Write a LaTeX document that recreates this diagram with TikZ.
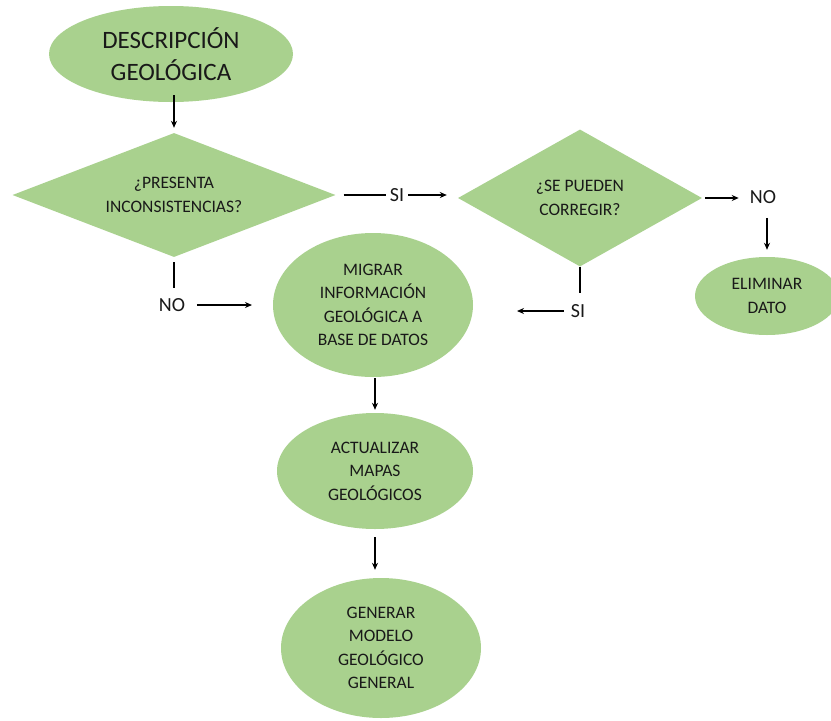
\documentclass[tikz,border=0pt]{standalone}
\usepackage{fontspec}
\setmainfont{Carlito}
\usetikzlibrary{shapes.geometric,arrows.meta}
\definecolor{boxgreen}{HTML}{A9D18E}
\begin{document}
\begin{tikzpicture}[x=1pt,y=-1pt,
  shapebox/.style={fill=boxgreen, draw=none, inner sep=0pt, align=center, text=black!90},
  oval/.style={shapebox, ellipse},
  rhomb/.style={shapebox, diamond},
  small/.style={font=\fontsize{17.5}{23.5}\selectfont},
  big/.style={font=\fontsize{25}{32}\selectfont},
  lbl/.style={font=\fontsize{20}{24}\selectfont, inner sep=4pt, text=black!90},
  arr/.style={line width=1.2pt, -{Stealth[length=7pt,width=6pt]}},
  ln/.style={line width=1.2pt}]
\useasboundingbox (0,0) rectangle (831,721);
\fill[white] (0,0) rectangle (831,721);

% shapes
\node[oval, big, minimum width=244, minimum height=96] (desc) at (171,54) {DESCRIPCIÓN\\GEOLÓGICA};
\node[rhomb, small, aspect=2.6, minimum width=323, minimum height=124] (d1) at (174,195) {¿PRESENTA\\INCONSISTENCIAS?};
\node[rhomb, small, aspect=1.8, minimum width=244, minimum height=137] (d2) at (580,198) {¿SE PUEDEN\\CORREGIR?};
\node[oval, small, minimum width=144, minimum height=78] (elim) at (767,296) {ELIMINAR\\DATO};
\node[oval, small, minimum width=200, minimum height=144] (mig) at (373,305) {MIGRAR\\INFORMACIÓN\\GEOLÓGICA A\\BASE DE DATOS};
\node[oval, small, minimum width=196, minimum height=116] (act) at (375,471) {ACTUALIZAR\\MAPAS\\GEOLÓGICOS};
\node[oval, small, minimum width=200, minimum height=140] (gen) at (381,648) {GENERAR\\MODELO\\GEOLÓGICO\\GENERAL};

% labels
\node[lbl] (si1) at (397,195) {SI};
\node[lbl] (no2) at (763,197) {NO};
\node[lbl] (si2) at (578,311) {SI};
\node[lbl] (no1) at (172,305) {NO};
\coordinate (si2end) at (517,311);
\coordinate (no1end) at (252,305);

% connectors
\draw[arr, shorten <=-7pt, shorten >=5pt] (d1.north |- desc.south) -- (d1.north);
\draw[ln, shorten <=8pt] (d1.east) -- (si1.west);
\draw[arr, shorten >=11pt] (si1.east) -- (si1.east -| d2.west);
\draw[arr, shorten <=3pt, shorten >=7pt] (d2.east) -- (d2.east -| no2.west);
\draw[arr, shorten <=10pt, shorten >=7pt] (no2.south -| elim.north) -- (elim.north);
\draw[ln, shorten >=7.5pt] (d2.south) -- (d2.south |- si2.north);
\draw[arr, shorten <=3pt] (si2.west) -- (si2end);
\draw[ln, shorten <=5pt, shorten >=6.5pt] (d1.south) -- (d1.south |- no1.north);
\draw[arr, shorten <=7.5pt] (no1.east) -- (no1end);
\draw[arr, shorten <=1pt, shorten >=3pt] (act.north |- mig.south) -- (act.north);
\draw[arr, shorten <=8pt, shorten >=8pt] (act.south) -- (act.south |- gen.north);
\end{tikzpicture}
\end{document}
